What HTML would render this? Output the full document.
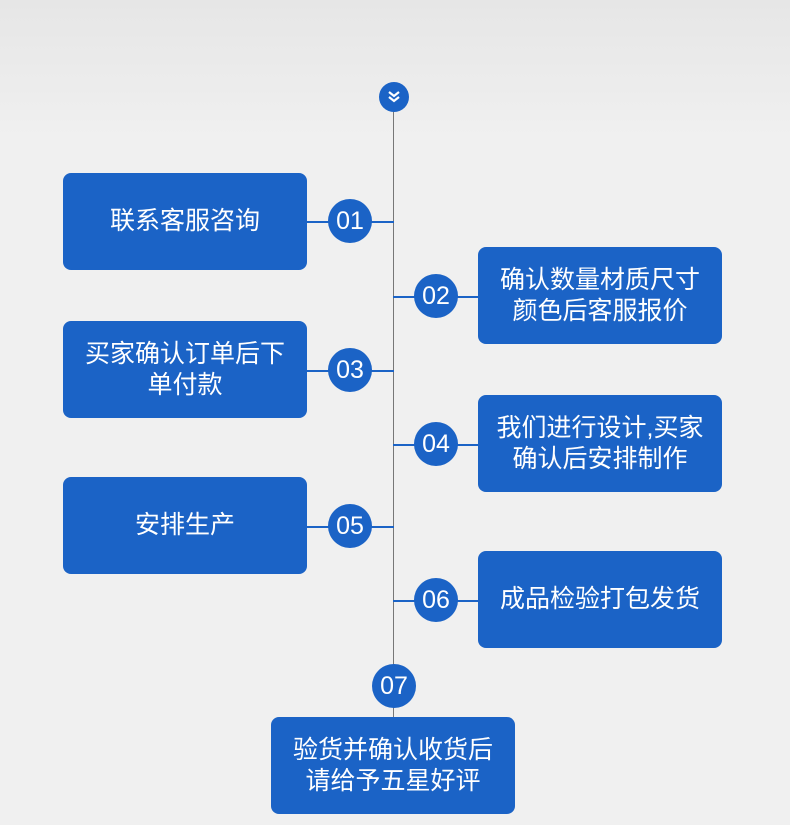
<!DOCTYPE html>
<html><head><meta charset="utf-8"><style>
body{margin:0;width:790px;height:825px;background:#f0f0f0;position:relative;overflow:hidden;font-family:"Liberation Sans","Noto Sans CJK SC",sans-serif}
.bg{position:absolute;left:0;top:0;width:790px;height:140px;background:linear-gradient(#e6e6e6,#f0f0f0)}
.v{position:absolute;left:393px;top:110px;width:1px;height:610px;background:#777}
.box{position:absolute;width:244px;height:97px;background:#1b63c6;border-radius:8px;color:#fff;font-size:25px;line-height:31px;display:flex;align-items:center;justify-content:center;text-align:center}
.c{position:absolute;width:44px;height:44px;border-radius:50%;background:#1b63c6;color:#fff;font-size:25px;line-height:44px;text-align:center}
.h{position:absolute;height:1.5px;background:#1b63c6}
</style></head><body>
<div class="bg"></div>
<div class="v"></div>
<div class="c" style="left:379px;top:82px;width:30px;height:30px;"><svg width="30" height="30"><path d="M10 10l5 4 5-4M10 15l5 4 5-4" stroke="#fff" stroke-width="2.2" fill="none"/></svg></div>

<div class="h" style="left:307px;top:221px;width:87px"></div>
<div class="box" style="left:63px;top:173px">联系客服咨询</div>
<div class="c" style="left:328px;top:199px">01</div>

<div class="h" style="left:393px;top:296px;width:86px"></div>
<div class="box" style="left:478px;top:247px">确认数量材质尺寸<br>颜色后客服报价</div>
<div class="c" style="left:414px;top:274px">02</div>

<div class="h" style="left:307px;top:370px;width:87px"></div>
<div class="box" style="left:63px;top:321px">买家确认订单后下<br>单付款</div>
<div class="c" style="left:328px;top:348px">03</div>

<div class="h" style="left:393px;top:444px;width:86px"></div>
<div class="box" style="left:478px;top:395px">我们进行设计,买家<br>确认后安排制作</div>
<div class="c" style="left:414px;top:422px">04</div>

<div class="h" style="left:307px;top:526px;width:87px"></div>
<div class="box" style="left:63px;top:477px">安排生产</div>
<div class="c" style="left:328px;top:504px">05</div>

<div class="h" style="left:393px;top:600px;width:86px"></div>
<div class="box" style="left:478px;top:551px">成品检验打包发货</div>
<div class="c" style="left:414px;top:578px">06</div>

<div class="c" style="left:372px;top:664px">07</div>
<div class="box" style="left:271px;top:717px">验货并确认收货后<br>请给予五星好评</div>
</body></html>
